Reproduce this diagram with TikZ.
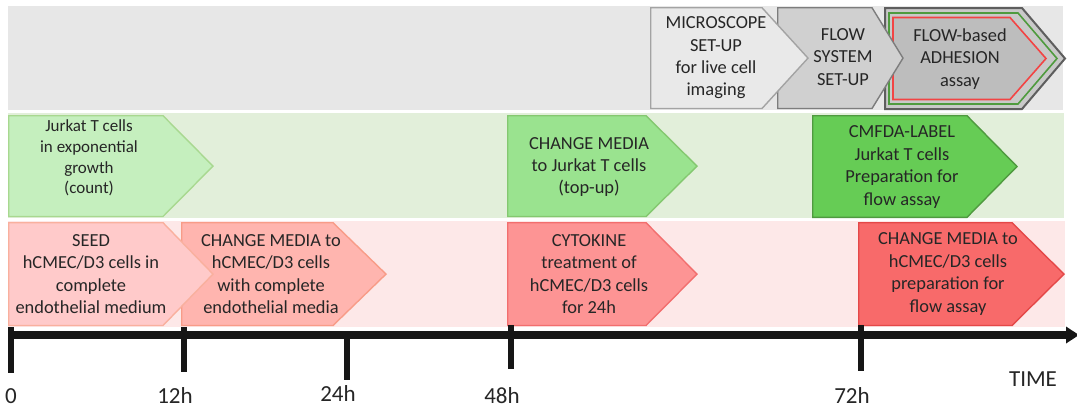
\documentclass[tikz,border=0pt]{standalone}
\usepackage{fontspec}
\setmainfont{Carlito}
\definecolor{txtgray}{HTML}{262626}
\definecolor{bandgray}{HTML}{E7E7E7}
\definecolor{bandgreen}{HTML}{E2EFDA}
\definecolor{bandpink}{HTML}{FDE8E8}
\definecolor{axisblack}{HTML}{161616}
% green row
\definecolor{gAfill}{HTML}{C5EFBE}\definecolor{gAline}{HTML}{A8D890}
\definecolor{gBfill}{HTML}{9AE38F}\definecolor{gBline}{HTML}{84C870}
\definecolor{gCfill}{HTML}{66CC55}\definecolor{gCline}{HTML}{4F9A3F}
% red row
\definecolor{rAfill}{HTML}{FFCACA}\definecolor{rAline}{HTML}{F9B09E}
\definecolor{rBfill}{HTML}{FFB5AF}\definecolor{rBline}{HTML}{F89C88}
\definecolor{rCfill}{HTML}{FD9494}\definecolor{rCline}{HTML}{F26E6E}
\definecolor{rDfill}{HTML}{F86A6A}\definecolor{rDline}{HTML}{E44848}
% grey row
\definecolor{kAfill}{HTML}{E9E9E9}\definecolor{kAline}{HTML}{A3A3A3}
\definecolor{kBfill}{HTML}{D0D0D0}\definecolor{kBline}{HTML}{7D7D7D}
\definecolor{kCouter}{HTML}{C9C9C9}\definecolor{kCinner}{HTML}{BDBDBD}
\definecolor{kCline}{HTML}{5E5E5E}
\definecolor{ringgreen}{HTML}{4F9B3E}
\definecolor{ringred}{HTML}{F24444}
% home-plate arrow: #1 style, #2 left, #3 top, #4 bottom, #5 body right, #6 tip
\newcommand\hplate[6]{\path[#1] (#2,#3) -- (#5,#3) -- (#6,{(#3+#4)/2}) -- (#5,#4) -- (#2,#4) -- cycle;}
\begin{document}
\begin{tikzpicture}[x=1pt,y=-1pt,
  plate/.style={line width=1.4pt, line join=miter},
  txt/.style={text=txtgray, align=center, inner sep=0pt,
    font=\fontsize{18.4}{22.4}\selectfont},
  txtsmall/.style={txt, font=\fontsize{17}{20.7}\selectfont},
  ticklabel/.style={text=txtgray, inner sep=0pt,
    font=\fontsize{23}{27}\selectfont},
  tickmark/.style={fill=axisblack}]
\useasboundingbox (0,0) rectangle (1077,408);

% background bands
\fill[bandgray]  (8,6)   rectangle (1063,110);
\fill[bandgreen] (8,113) rectangle (1064,218);
\fill[bandpink]  (8,221) rectangle (1065,327);

% ---- set-up row (later steps first, earlier ones overlap them)
\hplate{fill=kCouter, draw=kCline, line width=2pt, line join=miter}{885}{8}{109}{1022}{1065}
\hplate{draw=ringgreen, line width=1.6pt, line join=miter}{889}{13}{104}{1018}{1057}
\hplate{fill=kCinner, draw=ringred, line width=1.6pt, line join=miter}{893}{17.5}{99.5}{1010}{1046}
\hplate{plate, fill=kBfill, draw=kBline}{777.7}{7.7}{108.5}{872}{903}
\hplate{plate, fill=kAfill, draw=kAline}{650.7}{7.7}{108.5}{762}{808}

\node[txt] (flowassay) at (960,59) {FLOW-based\\ADHESION\\assay};
\node[txt] (flowsys) at (843,57) {FLOW\\SYSTEM\\SET-UP};
\node[txt] (micro) at (716,58) {MICROSCOPE\\SET-UP\\for live cell\\imaging};

% ---- Jurkat T cell row
\hplate{plate, fill=gAfill, draw=gAline}{8.7}{115.7}{216.5}{163}{213}
\hplate{plate, fill=gBfill, draw=gBline}{507.7}{115.7}{216.5}{646}{697}
\hplate{plate, fill=gCfill, draw=gCline}{812.7}{115.7}{217.3}{967}{1017}

\node[txtsmall] (jurkat) at (89,158) {Jurkat T cells\\in exponential\\growth\\(count)};
\node[txt] (topup) at (589,167) {CHANGE MEDIA\\to Jurkat T cells\\(top-up)};
\node[txt] (cmfda) at (902,167) {CMFDA-LABEL\\Jurkat T cells\\Preparation for\\flow assay};

% ---- hCMEC/D3 row
\hplate{plate, fill=rDfill, draw=rDline}{858.7}{222.7}{325.5}{1012}{1064}
\hplate{plate, fill=rCfill, draw=rCline}{507.7}{222.7}{325.5}{646}{697}
\hplate{plate, fill=rBfill, draw=rBline}{181.7}{222.7}{325.5}{333}{386}
\hplate{plate, fill=rAfill, draw=rAline}{8.7}{222.7}{325.5}{163}{213}

\node[txt] (seed) at (91,274) {SEED\\hCMEC/D3 cells in\\complete\\endothelial medium};
\node[txt] (media12) at (271,274) {CHANGE MEDIA to\\hCMEC/D3 cells\\with complete\\endothelial media};
\node[txt] (cytokine) at (589,274) {CYTOKINE\\treatment of\\hCMEC/D3 cells\\for 24h};
\node[txt] (media72) at (948,274) {CHANGE MEDIA to\\hCMEC/D3 cells\\preparation for\\flow assay};

% ---- time axis
\fill[axisblack] (8,331) rectangle (1067,339);
\fill[axisblack] (1066,326.5) -- (1079,335) -- (1066,343.5) -- cycle;
\fill[tickmark] (8,327)   rectangle (14,373);
\fill[tickmark] (181,327) rectangle (187,372);
\fill[tickmark] (344,335) rectangle (350,380);
\fill[tickmark] (508,325) rectangle (514,369);
\fill[tickmark] (858,325) rectangle (864,371);

\node[ticklabel] (l0)  at (11,396)  {0};
\node[ticklabel] (l12) at (175,396) {12h};
\node[ticklabel] (l24) at (338,394) {24h};
\node[ticklabel] (l48) at (502,396) {48h};
\node[ticklabel] (l72) at (852,396) {72h};
\node[ticklabel] (ltime) at (1033,379) {TIME};
\end{tikzpicture}
\end{document}
